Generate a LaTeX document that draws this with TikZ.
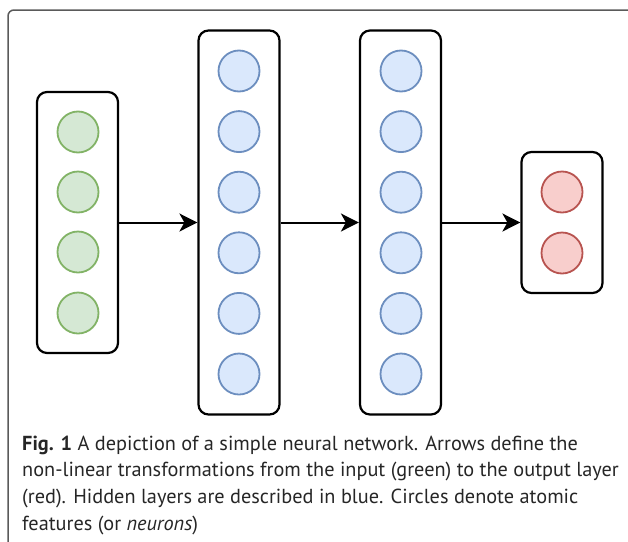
\documentclass[tikz,border=0pt]{standalone}
\usepackage{fontspec}
\setmainfont{PT Sans}
\usetikzlibrary{arrows.meta}
\definecolor{ingreen}{HTML}{D5E8D4}
\definecolor{ingreenline}{HTML}{82B366}
\definecolor{hidblue}{HTML}{DAE8FC}
\definecolor{hidblueline}{HTML}{6C8EBF}
\definecolor{outred}{HTML}{F8CECC}
\definecolor{outredline}{HTML}{B85450}
\definecolor{framegray}{HTML}{5A5A5A}
\begin{document}
\begin{tikzpicture}[x=1pt,y=-1pt,
  layer/.style={draw=black, line width=2.2pt, rounded corners=10pt,
    minimum width=81pt, inner sep=0pt, fill=white},
  neuron/.style={circle, line width=1.8pt, minimum size=41pt, inner sep=0pt},
  inneuron/.style={neuron, draw=ingreenline, fill=ingreen},
  hidneuron/.style={neuron, draw=hidblueline, fill=hidblue},
  outneuron/.style={neuron, draw=outredline, fill=outred},
  link/.style={draw=black, line width=2pt,
    -{Stealth[length=18pt, width=18pt, inset=5pt]}},
  captiontext/.style={anchor=base west, inner sep=0pt,
    font=\fontsize{20.3}{26}\selectfont, text=black!85}
]
\useasboundingbox (0,0) rectangle (628,541);

% frame around the figure
\draw[framegray, line width=1.5pt, rounded corners=6pt]
  (640,10) -- (8,10) -- (8,560);

% layers, all centred on the same row
\node[layer, minimum height=261pt] (inlayer) at (77.5,222.5) {};
\node[layer, minimum height=384pt] (hidA) at (239,222.5) {};
\node[layer, minimum height=384pt] (hidB) at (400.5,222.5) {};
\node[layer, minimum height=141pt] (outlayer) at (562,222.5) {};

% input neurons
\foreach \k/\yy in {1/132,2/192,3/252,4/313}
  \node[inneuron] (in\k) at (78,\yy) {};

% hidden neurons
\foreach \k in {0,...,5} {
  \node[hidneuron] (ha\k) at (239,71+60.6*\k) {};
  \node[hidneuron] (hb\k) at (401,71+60.6*\k) {};
}

% output neurons
\node[outneuron] (out1) at (562,192) {};
\node[outneuron] (out2) at (562,253) {};

% transformations between layers
\draw[link] (inlayer.east) -- (hidA.west);
\draw[link] (hidA.east) -- (hidB.west);
\draw[link] (hidB.east) -- (outlayer.west);

% caption
\node[captiontext] (cap1) at (22,450) {\textbf{Fig. 1} A depiction of a simple neural network. Arrows define the};
\node[captiontext] (cap2) at (22,476.7) {non-linear transformations from the input (green) to the output layer};
\node[captiontext] (cap3) at (22,503.3) {(red). Hidden layers are described in blue. Circles denote atomic};
\node[captiontext] (cap4) at (22,530) {features (or \textit{neurons})};
\end{tikzpicture}
\end{document}
